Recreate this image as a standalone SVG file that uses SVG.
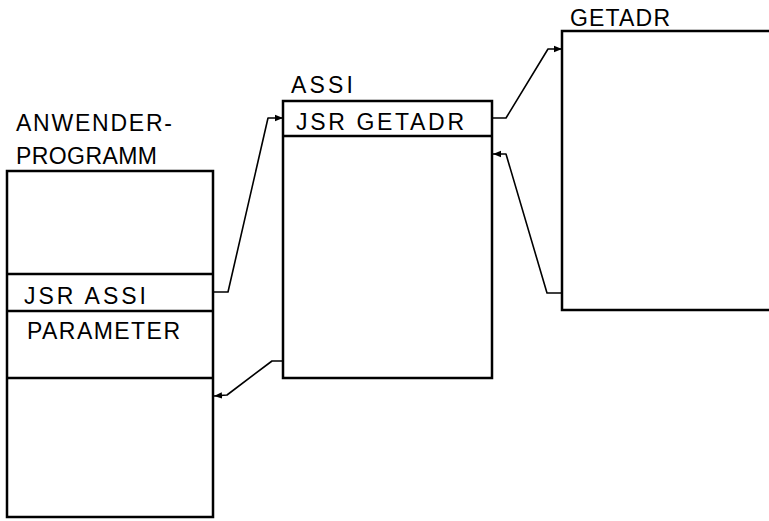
<svg xmlns="http://www.w3.org/2000/svg" width="769" height="521" viewBox="0 0 769 521">
<defs>
<style>
.box{fill:#fff;stroke:#000;stroke-width:2.5}
.div{stroke:#000;stroke-width:2.5}
.t{font-family:"Liberation Sans",Arial,sans-serif;font-size:23px;fill:#000}
.c{fill:none;stroke:#000;stroke-width:1.6;stroke-linejoin:round}
</style>
<marker id="ah" viewBox="0 0 10 10" refX="10" refY="5" markerWidth="8" markerHeight="8" markerUnits="userSpaceOnUse" orient="auto">
<path d="M0,1 L10,5 L0,9 Z" fill="#000"/>
</marker>
</defs>
<rect width="769" height="521" fill="#fff"/>
<g id="anwender">
<rect class="box" x="7" y="171" width="206" height="346"/>
<line class="div" x1="7" y1="274" x2="213" y2="274"/>
<line class="div" x1="7" y1="311" x2="213" y2="311"/>
<line class="div" x1="7" y1="378" x2="213" y2="378"/>
<text class="t" x="16" y="131" textLength="156" lengthAdjust="spacing">ANWENDER-</text>
<text class="t" x="16" y="164" textLength="141" lengthAdjust="spacing">PROGRAMM</text>
<text class="t" x="24" y="304" textLength="122" lengthAdjust="spacing">JSR ASSI</text>
<text class="t" x="27" y="339" textLength="153" lengthAdjust="spacing">PARAMETER</text>
</g>
<g id="assi">
<rect class="box" x="283" y="101" width="209" height="277"/>
<line class="div" x1="283" y1="136" x2="492" y2="136"/>
<text class="t" x="291" y="93" textLength="62" lengthAdjust="spacing">ASSI</text>
<text class="t" x="296" y="130" textLength="168" lengthAdjust="spacing">JSR GETADR</text>
</g>
<g id="getadr">
<rect class="box" x="562" y="31" width="210" height="279"/>
<text class="t" x="570" y="26" textLength="100" lengthAdjust="spacing">GETADR</text>
</g>
<g id="connectors">
<polyline class="c" points="213,292 228,292 268,118 283,118" marker-end="url(#ah)"/>
<polyline class="c" points="492,118 506,118 548,49 562,49" marker-end="url(#ah)"/>
<polyline class="c" points="562,293 547,293 506,154 493,154" marker-end="url(#ah)"/>
<polyline class="c" points="283,361 272,361 227,395 214,396" marker-end="url(#ah)"/>
</g>
</svg>
